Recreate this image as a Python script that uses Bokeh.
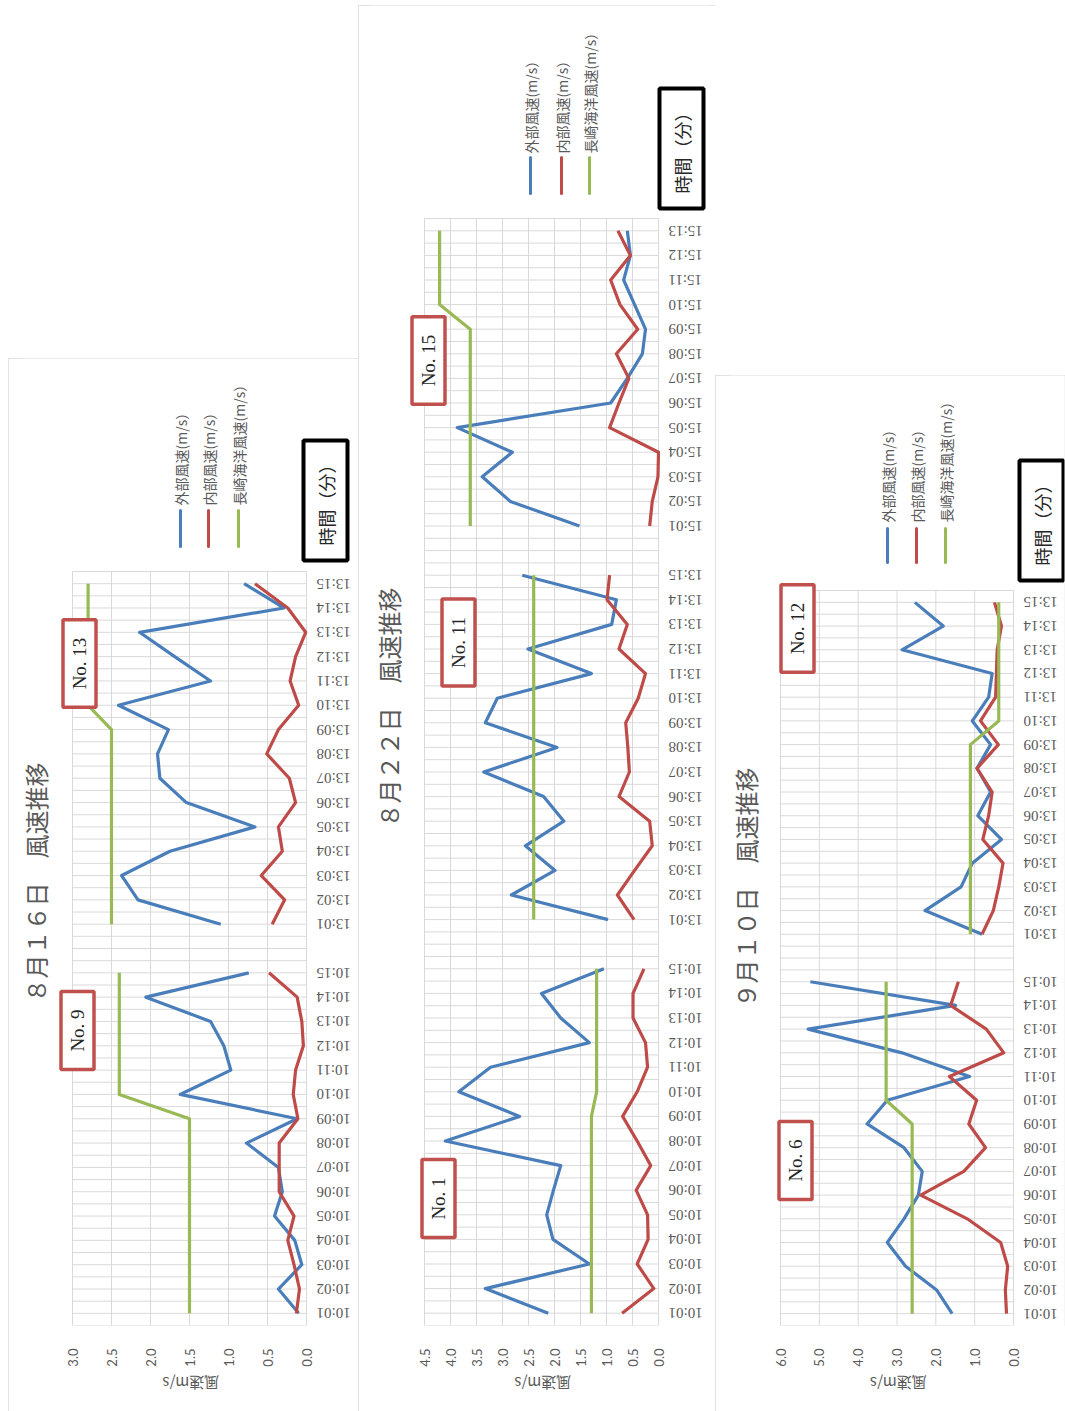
import math

from bokeh.core.properties import value
from bokeh.embed import file_html
from bokeh.layouts import column, row
from bokeh.models import (FixedTicker, Label, LinearAxis, NumeralTickFormatter,
                          Range1d, Spacer)
from bokeh.plotting import figure
from bokeh.resources import INLINE

# ---------------------------------------------------------------- colours
C_OUT = "#4A7EBB"     # 外部風速
C_IN = "#BE4B48"      # 内部風速
C_SEA = "#98B954"     # 長崎海洋風速
C_GRID = "#D9D9D9"
C_TEXT = "#595959"
C_TAG = "#C0504D"

SERIES = ["外部風速(m/s）", "内部風速(m/s）", "長崎海洋風速(m/s）"]
SERIES_COLORS = [C_OUT, C_IN, C_SEA]
TIME_TITLE = "時間（分）"
SPEED_TITLE = "風速m/s"

# ---------------------------------------------------------------- time labels
min_1001_1015 = ["10:01", "10:02", "10:03", "10:04", "10:05", "10:06", "10:07", "10:08",
                 "10:09", "10:10", "10:11", "10:12", "10:13", "10:14", "10:15"]
min_1301_1315 = ["13:01", "13:02", "13:03", "13:04", "13:05", "13:06", "13:07", "13:08",
                 "13:09", "13:10", "13:11", "13:12", "13:13", "13:14", "13:15"]
min_1501_1513 = ["15:01", "15:02", "15:03", "15:04", "15:05", "15:06", "15:07", "15:08",
                 "15:09", "15:10", "15:11", "15:12", "15:13"]

# ---------------------------------------------------------------- 8月16日
no9_out = [0.10, 0.36, 0.06, 0.15, 0.41, 0.31, 0.36, 0.77, 0.12, 1.62, 0.97, 1.06, 1.23, 2.06, 0.74]
no9_in = [0.13, 0.09, 0.16, 0.24, 0.16, 0.35, 0.35, 0.35, 0.11, 0.17, 0.14, 0.04, 0.06, 0.12, 0.48]
no9_sea = [1.50, 1.50, 1.50, 1.50, 1.50, 1.50, 1.50, 1.50, 1.50, 2.40, 2.40, 2.40, 2.40, 2.40, 2.40]

no13_out = [1.10, 2.16, 2.37, 1.75, 0.66, 1.54, 1.88, 1.91, 1.77, 2.41, 1.23, 1.69, 2.14, 0.29, 0.80]
no13_in = [0.44, 0.28, 0.58, 0.31, 0.36, 0.14, 0.22, 0.51, 0.36, 0.10, 0.21, 0.14, 0.01, 0.24, 0.66]
no13_sea = [2.50, 2.50, 2.50, 2.50, 2.50, 2.50, 2.50, 2.50, 2.50, 2.80, 2.80, 2.80, 2.80, 2.80, 2.80]

# ---------------------------------------------------------------- 8月22日
no1_out = [2.12, 3.33, 1.33, 2.03, 2.15, 2.02, 1.88, 4.10, 2.67, 3.84, 3.23, 1.33, 1.88, 2.25, 1.05]
no1_in = [0.70, 0.09, 0.41, 0.20, 0.21, 0.43, 0.15, 0.41, 0.69, 0.41, 0.21, 0.25, 0.49, 0.49, 0.28]
no1_sea = [1.29, 1.29, 1.29, 1.29, 1.29, 1.29, 1.29, 1.29, 1.29, 1.19, 1.19, 1.19, 1.19, 1.19, 1.19]

no11_out = [0.97, 2.83, 1.99, 2.56, 1.82, 2.21, 3.36, 1.95, 3.33, 3.10, 1.29, 2.51, 0.90, 0.81, 2.62]
no11_in = [0.47, 0.79, 0.46, 0.12, 0.17, 0.76, 0.56, 0.59, 0.63, 0.39, 0.25, 0.76, 0.60, 0.99, 0.94]
no11_sea = [2.40, 2.40, 2.40, 2.40, 2.40, 2.40, 2.40, 2.40, 2.40, 2.40, 2.40, 2.40, 2.40, 2.40, 2.40]

no15_out = [1.52, 2.85, 3.39, 2.81, 3.87, 0.92, 0.60, 0.31, 0.25, 0.46, 0.67, 0.54, 0.60]
no15_in = [0.17, 0.12, 0.01, 0.00, 0.94, 0.76, 0.57, 0.81, 0.40, 0.74, 0.92, 0.54, 0.78]
no15_sea = [3.62, 3.62, 3.62, 3.62, 3.62, 3.62, 3.62, 3.62, 3.62, 4.21, 4.21, 4.21, 4.21]

# ---------------------------------------------------------------- 9月10日
no6_out = [1.58, 1.98, 2.78, 3.25, 2.82, 2.45, 2.35, 2.82, 3.77, 3.25, 1.13, 2.87, 5.29, 1.49, 5.23]
no6_in = [0.18, 0.21, 0.15, 0.33, 1.19, 2.39, 1.28, 0.72, 1.15, 0.95, 1.65, 0.25, 0.70, 1.62, 1.42]
no6_sea = [2.61, 2.61, 2.61, 2.61, 2.61, 2.61, 2.61, 2.61, 2.61, 3.28, 3.28, 3.28, 3.28, 3.28, 3.28]

no12_out = [0.81, 2.28, 1.35, 1.06, 0.31, 0.92, 0.59, 0.94, 0.59, 1.06, 0.64, 0.55, 2.87, 1.81, 2.54]
no12_in = [0.81, 0.52, 0.38, 0.27, 0.79, 0.64, 0.55, 0.94, 0.39, 0.85, 0.46, 0.44, 0.42, 0.31, 0.49]
no12_sea = [1.11, 1.11, 1.11, 1.11, 1.11, 1.11, 1.11, 1.11, 1.11, 0.38, 0.38, 0.38, 0.38, 0.38, 0.38]

PANELS = [
    dict(title="８月１６日　風速推移", xmax=3.0, xstep=0.5,
         segments=[("No. 9", min_1001_1015, no9_out, no9_in, no9_sea),
                   ("No. 13", min_1301_1315, no13_out, no13_in, no13_sea)]),
    dict(title="８月２２日　風速推移", xmax=4.5, xstep=0.5,
         segments=[("No. 1", min_1001_1015, no1_out, no1_in, no1_sea),
                   ("No. 11", min_1301_1315, no11_out, no11_in, no11_sea),
                   ("No. 15", min_1501_1513, no15_out, no15_in, no15_sea)]),
    dict(title="９月１０日　風速推移", xmax=6.0, xstep=1.0,
         segments=[("No. 6", min_1001_1015, no6_out, no6_in, no6_sea),
                   ("No. 12", min_1301_1315, no12_out, no12_in, no12_sea)]),
]

# ---------------------------------------------------------------- page layout (px)
PAGE_H = 1411
SPEED_TITLE_HALF_W = 27   # half the drawn width of the upside-down axis title
LAYOUT = [
    dict(left=8, top=358, width=350, grid=(72, 571, 306, 1325), frame_x=(22, 356),
         title=(35, 882), legend_x=(180, 208, 238), legend_text_y=505, legend_bar=(510, 546),
         time_box=(325, 500), tags=[(77, 1030), (79, 663)]),
    dict(left=358, top=5, width=357, grid=(424, 218, 658, 1325), frame_x=(372, 710),
         title=(388, 707), legend_x=(530, 561, 589), legend_text_y=153, legend_bar=(157, 193),
         time_box=(681, 148), tags=[(438, 1198), (458, 642), (428, 360)]),
    dict(left=715, top=375, width=350, grid=(780, 590, 1013, 1325), frame_x=(729, 1064),
         title=(745, 887), legend_x=(887, 916, 945), legend_text_y=522, legend_bar=(528, 562),
         time_box=(1041, 520), tags=[(795, 1160), (797, 628)]),
]


def build_panel(spec, geo):
    gl, gt, gr, gb = geo["grid"]
    fl, fr = geo["frame_x"]
    xmax = spec["xmax"]

    # category slots: one empty slot between time blocks
    blocks, ticks, labels, pos = [], [], [], 0
    for seg in spec["segments"]:
        idx = list(range(pos, pos + len(seg[1])))
        blocks.append(idx)
        ticks += idx
        labels += seg[1]
        pos += len(seg[1]) + 1
    n = pos - 1

    # page px -> data coordinates
    def dx(X):
        return (gr - X) * xmax / (gr - gl)

    def dy(Y):
        return -0.5 + (gb - Y) * n / (gb - gt)

    def at(X, Y):
        return dx(X), dy(Y)

    p = figure(width=geo["width"], height=PAGE_H - geo["top"],
               x_range=Range1d(dx(fl), dx(fr)), y_range=Range1d(-0.5, dy(geo["top"])),
               y_axis_location=None, output_backend="svg", toolbar_location=None,
               min_border_left=fl - geo["left"], min_border_right=geo["left"] + geo["width"] - fr,
               min_border_top=0, min_border_bottom=PAGE_H - gb,
               background_fill_color="white", border_fill_color="white",
               outline_line_color=None,
               styles={"outline": "1px solid #D9D9D9", "outline-offset": "-1px"})
    p.xgrid.visible = False
    p.ygrid.visible = False

    # plot-area grid: value lines and half-minute lines
    xticks = [round(k * spec["xstep"], 2) for k in range(int(round(xmax / spec["xstep"])) + 1)]
    hy = [-0.5 + 0.5 * k for k in range(2 * n + 1)]
    p.segment(x0=[0] * len(hy), x1=[xmax] * len(hy), y0=hy, y1=hy,
              line_color=C_GRID, line_width=1)
    p.segment(x0=xticks, x1=xticks, y0=[-0.5] * len(xticks), y1=[n - 0.5] * len(xticks),
              line_color=C_GRID, line_width=1)

    # speed axis (bottom)
    ax = p.xaxis[0]
    ax.ticker = FixedTicker(ticks=xticks)
    ax.formatter = NumeralTickFormatter(format="0.0")
    ax.major_label_orientation = math.pi / 2
    ax.major_label_standoff = 17
    ax.major_label_text_font = "Lato"
    ax.major_label_text_font_size = "13px"
    ax.major_label_text_color = C_TEXT
    ax.axis_line_color = None
    ax.major_tick_line_color = None
    ax.minor_tick_line_color = None

    # speed axis title, upside down, centred under the plot area
    mid = dx((gl + gr) / 2 - SPEED_TITLE_HALF_W)
    ax2 = LinearAxis(ticker=FixedTicker(ticks=[mid]), major_label_overrides={mid: SPEED_TITLE},
                     major_label_orientation=math.pi, major_label_standoff=8,
                     major_label_text_font="Noto Sans CJK JP", major_label_text_font_size="15px",
                     major_label_text_color=C_TEXT, axis_line_color=None,
                     major_tick_line_color=None, minor_tick_line_color=None)
    p.add_layout(ax2, "below")

    # time labels (right of the plot area, upside down)
    p.text(x=[dx(gr + 10)] * len(ticks), y=ticks, text=labels, angle=math.pi,
           text_align="right", text_baseline="middle",
           text_font=value("Liberation Serif"), text_font_size="15px", text_color=C_TEXT)

    # series
    for idx, seg in zip(blocks, spec["segments"]):
        for values, color in zip(seg[2:], SERIES_COLORS):
            p.line(x=values, y=idx, line_color=color, line_width=3.2, line_join="round")

    # title
    tx, ty = at(*geo["title"])
    p.add_layout(Label(x=tx, y=ty, text=spec["title"], angle=math.pi / 2,
                       text_align="center", text_baseline="middle",
                       text_font="Noto Sans CJK JP", text_font_size="24px",
                       text_color=C_TEXT))

    # legend
    b0, b1 = geo["legend_bar"]
    for lx, name, color in zip(geo["legend_x"], SERIES, SERIES_COLORS):
        p.segment(x0=[dx(lx)], y0=[dy(b1)], x1=[dx(lx)], y1=[dy(b0)],
                  line_color=color, line_width=3, line_cap="round")
        lx_, ly_ = at(lx, geo["legend_text_y"])
        p.add_layout(Label(x=lx_, y=ly_, text=name, angle=math.pi / 2,
                           text_align="left", text_baseline="middle",
                           text_font="Noto Sans CJK JP", text_font_size="14px",
                           text_color=C_TEXT))

    # time axis title box
    bx, by = at(*geo["time_box"])
    p.add_layout(Label(x=bx, y=by, text=TIME_TITLE, angle=math.pi / 2,
                       text_align="center", text_baseline="middle",
                       text_font="Noto Sans CJK JP", text_font_size="18px",
                       text_color="#262626", background_fill_color="white",
                       border_line_color="black", border_line_width=4,
                       padding=dict(left=15, right=15, top=9, bottom=9)))

    # block tags
    for (gx, gy), seg in zip(geo["tags"], spec["segments"]):
        x, y = at(gx, gy)
        p.add_layout(Label(x=x, y=y, text=seg[0], angle=math.pi / 2,
                           text_align="center", text_baseline="middle",
                           text_font="Liberation Serif", text_font_size="19px",
                           text_color="#262626", background_fill_color="white",
                           border_line_color=C_TAG, border_line_width=3.5,
                           padding=dict(left=18, right=18, top=6, bottom=6)))
    return p


figs = [build_panel(s, g) for s, g in zip(PANELS, LAYOUT)]

page = row(
    Spacer(width=LAYOUT[0]["left"], height=10),
    column(Spacer(width=10, height=LAYOUT[0]["top"]), figs[0]),
    column(Spacer(width=10, height=LAYOUT[1]["top"]), figs[1]),
    column(Spacer(width=10, height=LAYOUT[2]["top"]), figs[2]),
)

open("out.html", "w").write(file_html(page, INLINE))
